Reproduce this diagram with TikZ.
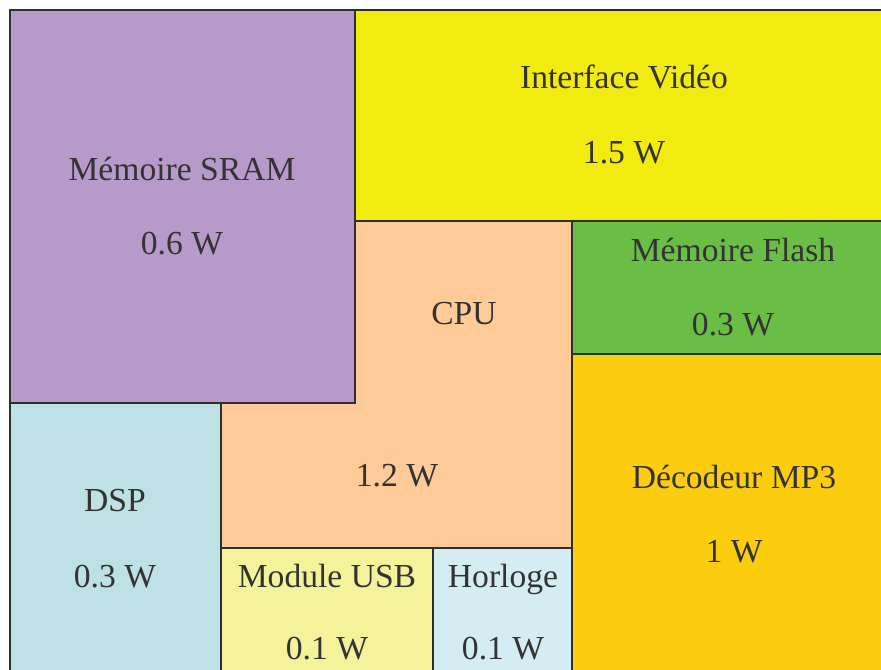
\documentclass[tikz,border=0pt]{standalone}
\usepackage{fontspec}
\setmainfont{Liberation Serif}
\definecolor{cSram}{HTML}{B69AC9}
\definecolor{cVideo}{HTML}{F2EB0F}
\definecolor{cCpu}{HTML}{FECB98}
\definecolor{cFlash}{HTML}{6ABD45}
\definecolor{cMp}{HTML}{FCCD0E}
\definecolor{cDsp}{HTML}{BDE1E4}
\definecolor{cUsb}{HTML}{F5F29C}
\definecolor{cClk}{HTML}{D3EDF3}
\definecolor{cLine}{HTML}{2E2E2E}
\definecolor{cText}{HTML}{333333}
\tikzset{
  cell/.style={draw=cLine, line width=1.5pt},
  lbl/.style={text=cText, font=\fontsize{25.2}{28}\selectfont, inner sep=0pt, anchor=base},
}
\begin{document}
\begin{tikzpicture}[x=0.75pt, y=-0.75pt]
\useasboundingbox (0,0) rectangle (881,670);
\begin{scope}
\clip (0,0) rectangle (881,670);
\fill[white] (0,0) rectangle (881,670);
% rectangles
\path[cell, fill=cSram]  (9.5,10) rectangle (355,403);
\path[cell, fill=cVideo] (355,10) rectangle (895,221.5);
\path[cell, fill=cCpu]   (355,221.5) -- (572,221.5) -- (572,548) -- (221,548) -- (221,403) -- (355,403) -- cycle;
\path[cell, fill=cFlash] (572,221.5) rectangle (895,354);
\path[cell, fill=cMp]    (572,354) rectangle (895,690);
\path[cell, fill=cDsp]   (9.5,403) rectangle (221,690);
\path[cell, fill=cUsb]   (221,548) rectangle (433,690);
\path[cell, fill=cClk]   (433,548) rectangle (572,690);
\end{scope}
% labels (base line positions)
\node[lbl] (sramA)  at (182,181) {Mémoire SRAM};
\node[lbl] (sramB)  at (182,254) {0.6 W};
\node[lbl] (vidA)   at (624,89)  {Interface Vidéo};
\node[lbl] (vidB)   at (624,164) {1.5 W};
\node[lbl] (cpuA)   at (464,324) {CPU};
\node[lbl] (cpuB)   at (397,486) {1.2 W};
\node[lbl] (flashA) at (733,262) {Mémoire Flash};
\node[lbl] (flashB) at (733,335) {0.3 W};
\node[lbl] (mpA)    at (734,488) {Décodeur MP3};
\node[lbl] (mpB)    at (734,562) {1 W};
\node[lbl] (dspA)   at (115,511) {DSP};
\node[lbl] (dspB)   at (115,587) {0.3 W};
\node[lbl] (usbA)   at (327,587) {Module USB};
\node[lbl] (usbB)   at (327,659) {0.1 W};
\node[lbl] (clkA)   at (503,587) {Horloge};
\node[lbl] (clkB)   at (503,659) {0.1 W};
\end{tikzpicture}
\end{document}
